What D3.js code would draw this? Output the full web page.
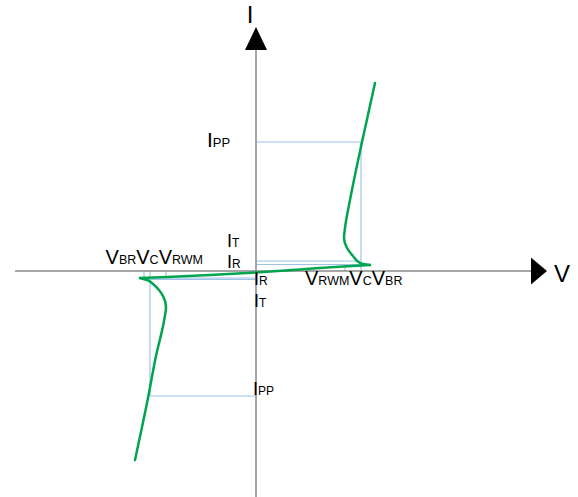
<!DOCTYPE html>
<html>
<head>
<meta charset="utf-8">
<script src="https://cdn.jsdelivr.net/npm/d3@7"></script>
<style>
  body { margin: 0; background: #fff; }
  text { font-family: "Liberation Sans", Arial, sans-serif; fill: #000; }
</style>
</head>
<body>
<div id="chart"></div>
<script>
/* I-V curve of a bidirectional TVS diode (schematic) */

// curve, in drawing units (V to the right, I up), split in three branches
var reverseV = [-11.6, -10.9, -10.3, -9.7, -9.25, -9.0, -9.2, -10.0, -10.8, -12.1];
var reverseI = [-0.7, -0.9, -1.3, -1.9, -2.6, -3.6, -5.0, -8.5, -12.7, -18.9];
var leakV = [-11.6, -8.9, -4.6, 0, 4.4, 8.7, 11.4];
var leakI = [-0.7, -0.6, -0.4, -0.15, 0.15, 0.45, 0.6];
var forwardV = [11.4, 10.4, 9.7, 9.1, 8.8, 8.9, 9.4, 10.6, 11.9];
var forwardI = [0.6, 0.8, 1.5, 2.3, 3.3, 4.3, 7.1, 12.9, 18.8];

// characteristic points: [positive side, negative side]
var vRWM = [8.9, -9.0];
var vC = [10.5, -10.6];
var vBR = [11.3, -11.2];
var iPP = [12.9, -12.5];
var iT = [1.0, -0.83];
var iR = [0.65, -0.7];

var width = 578,
    height = 497;

var x = d3.scaleLinear()
    .domain([-24.1, 29.1])
    .range([15, 547]);

var y = d3.scaleLinear()
    .domain([-22.6, 24.4])
    .range([497, 27]);

var svg = d3.select("#chart").append("svg")
    .attr("width", width)
    .attr("height", height);

// blue guide lines
var guides = [];
[0, 1].forEach(function(s) {
    var leakEnd = s === 0 ? vC[s] : vBR[s];
    guides.push([[0, iPP[s]], [vC[s], iPP[s]]]);
    guides.push([[vC[s], 0], [vC[s], iPP[s]]]);
    guides.push([[0, iT[s]], [leakEnd, iT[s]]]);
    guides.push([[0, iR[s]], [leakEnd, iR[s]]]);
    guides.push([[vRWM[s], 0], [vRWM[s], iR[s]]]);
    if (s === 1) guides.push([[vBR[s], 0], [vBR[s], iT[s]]]);
});

svg.selectAll(".guide")
    .data(guides)
    .enter().append("line")
    .attr("class", "guide")
    .attr("x1", function(d) { return x(d[0][0]); })
    .attr("y1", function(d) { return y(d[0][1]); })
    .attr("x2", function(d) { return x(d[1][0]); })
    .attr("y2", function(d) { return y(d[1][1]); })
    .attr("stroke", "#9dc3e6")
    .attr("stroke-width", 1.2);

// axes
var x0 = x(0), y0 = y(0);
svg.append("line")
    .attr("x1", x(-24.1)).attr("y1", y0)
    .attr("x2", x(27.5)).attr("y2", y0)
    .attr("stroke", "#888").attr("stroke-width", 1.5);
svg.append("line")
    .attr("x1", x0).attr("y1", y(22.2))
    .attr("x2", x0).attr("y2", y(-22.6))
    .attr("stroke", "#888").attr("stroke-width", 1.5);

// arrow heads
svg.append("path")
    .attr("d", "M" + x0 + "," + y(24.4) + "L" + (x0 + 11) + "," + y(22.1) +
        "L" + (x0 - 11) + "," + y(22.1) + "Z")
    .attr("fill", "#000");
svg.append("path")
    .attr("d", "M" + x(29.1) + "," + y0 + "L" + x(27.5) + "," + (y0 - 13.5) +
        "L" + x(27.5) + "," + (y0 + 13.5) + "Z")
    .attr("fill", "#000");

svg.append("text")
    .attr("x", x0 - 6).attr("y", 23)
    .attr("text-anchor", "middle")
    .style("font-size", "24px")
    .text("I");
svg.append("text")
    .attr("x", 554).attr("y", y0 + 11)
    .style("font-size", "24px")
    .text("V");

// green curve
function zip(vs, is) {
    return vs.map(function(v, i) { return [v, is[i]]; });
}
var lineY = d3.line()
    .x(function(d) { return x(d[0]); })
    .y(function(d) { return y(d[1]); })
    .curve(d3.curveMonotoneY);
var lineX = d3.line()
    .x(function(d) { return x(d[0]); })
    .y(function(d) { return y(d[1]); })
    .curve(d3.curveMonotoneX);

var branches = [
    { pts: zip(reverseV, reverseI), gen: lineY },
    { pts: zip(leakV, leakI), gen: lineX },
    { pts: zip(forwardV, forwardI), gen: lineY }
];

svg.selectAll(".branch")
    .data(branches)
    .enter().append("path")
    .attr("class", "branch")
    .attr("d", function(d) { return d.gen(d.pts); })
    .attr("fill", "none")
    .attr("stroke", "#00a550")
    .attr("stroke-width", 2.5)
    .attr("stroke-linejoin", "round")
    .attr("stroke-linecap", "round");

// labels: big letter + small subscript on the same baseline
function label(parts, px, py, anchor, big, small) {
    var t = svg.append("text")
        .attr("x", px).attr("y", py)
        .attr("text-anchor", anchor || "start");
    parts.forEach(function(p) {
        t.append("tspan")
            .style("font-size", (p[1] ? small : big) + "px")
            .text(p[0]);
    });
}

label([["V"], ["BR", 1], ["V"], ["C", 1], ["V"], ["RWM", 1]], x0 - 53, y0 - 7, "end", 20, 12.5);
label([["V"], ["RWM", 1], ["V"], ["C", 1], ["V"], ["BR", 1]], x0 + 49, y0 + 14, "start", 20, 12.5);
label([["I"], ["T", 1]], x0 - 29, y0 - 24, "start", 18, 12);
label([["I"], ["R", 1]], x0 - 29, y0 - 3, "start", 18, 12);
label([["I"], ["R", 1]], x0 - 2, y0 + 14, "start", 18, 12);
label([["I"], ["T", 1]], x0 - 2, y0 + 36, "start", 18, 12);
label([["I"], ["PP", 1]], x0 - 49, y(iPP[0]) + 5, "start", 21, 13);
label([["I"], ["PP", 1]], x0 - 3, y(iPP[1]) - 1, "start", 18, 12);
</script>
</body>
</html>
